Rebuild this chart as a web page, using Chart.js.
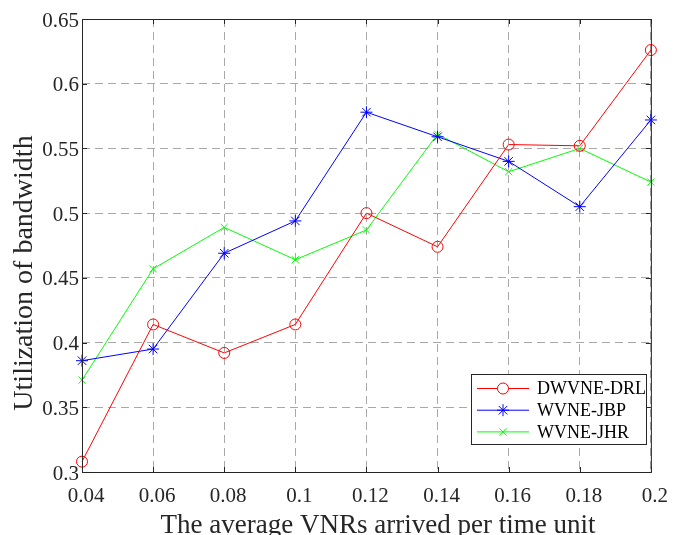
<!DOCTYPE html>
<html>
<head>
<meta charset="utf-8">
<script src="https://cdn.jsdelivr.net/npm/chart.js@4"></script>
<style>
  html, body { margin: 0; padding: 0; background: #fff; }
  #wrap { width: 676px; height: 535px; }
</style>
</head>
<body>
<div id="wrap"><canvas id="chart"></canvas></div>
<script>
// data
const xLabels = ['0.04', '0.06', '0.08', '0.1', '0.12', '0.14', '0.16', '0.18', '0.2'];
const yTicks = [0.3, 0.35, 0.4, 0.45, 0.5, 0.55, 0.6, 0.65];
const drl = [0.308, 0.414, 0.392, 0.414, 0.500, 0.474, 0.553, 0.552, 0.626];
const jbp = [0.386, 0.395, 0.469, 0.494, 0.578, 0.559, 0.540, 0.505, 0.572];
const jhr = [0.371, 0.457, 0.489, 0.464, 0.487, 0.561, 0.532, 0.550, 0.524];

const xTitle = 'The average VNRs arrived per time unit';
const yTitle = 'Utilization of bandwidth';

const serif = '"Liberation Serif", "Times New Roman", serif';
const axisColor = '#262626';

// box around the axes, inner tick marks, axis titles and legend
const boxPlugin = {
  id: 'box',
  afterDraw(chart) {
    const ctx = chart.ctx;
    const a = chart.chartArea;
    const xs = chart.scales.x, ys = chart.scales.y;
    ctx.save();
    ctx.strokeStyle = axisColor;
    ctx.lineWidth = 1;
    ctx.strokeRect(a.left + 0.5, a.top + 0.5, a.right - a.left, a.bottom - a.top);
    const t = 5;
    ctx.beginPath();
    xs.ticks.forEach((tk, i) => {
      const px = Math.round(xs.getPixelForTick(i)) + 0.5;
      ctx.moveTo(px, a.bottom); ctx.lineTo(px, a.bottom - t);
      ctx.moveTo(px, a.top); ctx.lineTo(px, a.top + t);
    });
    ys.ticks.forEach((tk, i) => {
      const py = Math.round(ys.getPixelForTick(i)) + 0.5;
      ctx.moveTo(a.left, py); ctx.lineTo(a.left + t, py);
      ctx.moveTo(a.right, py); ctx.lineTo(a.right - t, py);
    });
    ctx.stroke();

    // axis titles
    ctx.fillStyle = axisColor;
    ctx.textAlign = 'center';
    ctx.textBaseline = 'alphabetic';
    ctx.font = '27px ' + serif;
    ctx.fillText(xTitle, 378, 533);
    ctx.save();
    ctx.translate(32, 273);
    ctx.rotate(-Math.PI / 2);
    ctx.font = '28px ' + serif;
    ctx.fillText(yTitle, 0, 0);
    ctx.restore();

    // legend
    const lx = 471, ly = 374, lw = 175, lh = 70;
    ctx.fillStyle = '#fff';
    ctx.fillRect(lx, ly, lw, lh);
    ctx.strokeStyle = axisColor;
    ctx.strokeRect(lx + 0.5, ly + 0.5, lw, lh);
    ctx.font = '18px ' + serif;
    ctx.textAlign = 'left';
    ctx.textBaseline = 'middle';
    chart.data.datasets.forEach((ds, i) => {
      const cy = ly + 14.5 + i * 21.7;
      ctx.strokeStyle = ds.borderColor;
      ctx.lineWidth = 1;
      ctx.beginPath();
      ctx.moveTo(lx + 6, cy); ctx.lineTo(lx + 58, cy);
      ctx.stroke();
      Chart.helpers.drawPoint(ctx, {
        pointStyle: ds.pointStyle, radius: ds.pointRadius, borderWidth: 1
      }, lx + 32, cy);
      ctx.fillStyle = '#000';
      ctx.fillText(ds.label, lx + 66, cy + 1);
    });
    ctx.restore();
  }
};

function series(label, data, color, style, r) {
  return {
    label, data,
    borderColor: color,
    backgroundColor: 'rgba(0,0,0,0)',
    borderWidth: 1,
    pointStyle: style,
    pointRadius: r,
    pointBorderWidth: 1,
    pointBorderColor: color,
    tension: 0
  };
}

new Chart(document.getElementById('chart'), {
  type: 'line',
  data: {
    labels: xLabels,
    datasets: [
      series('DWVNE-DRL', drl, '#ff0000', 'circle', 5.5),
      series('WVNE-JBP', jbp, '#0000ff', 'star', 6),
      series('WVNE-JHR', jhr, '#00ff00', 'crossRot', 5)
    ]
  },
  options: {
    responsive: true,
    maintainAspectRatio: false,
    animation: false,
    layout: { padding: { left: 0, top: 19, right: 21, bottom: 0 } },
    plugins: {
      legend: { display: false },
      tooltip: { enabled: false }
    },
    scales: {
      x: {
        type: 'category',
        offset: false,
        grid: { color: '#a8a8a8', lineWidth: 1, drawTicks: false, offset: false },
        border: { display: false, dash: [8, 5] },
        ticks: {
          color: axisColor, font: { family: serif, size: 21 },
          padding: 12, labelOffset: 4, maxRotation: 0, autoSkip: false
        },
        afterFit: s => { s.height = 63; }
      },
      y: {
        min: 0.3,
        max: 0.65,
        grid: { color: '#a8a8a8', lineWidth: 1, drawTicks: false },
        border: { display: false, dash: [8, 5] },
        afterBuildTicks: s => { s.ticks = yTicks.map(v => ({ value: v })); },
        ticks: {
          color: axisColor,
          font: { family: serif, size: 21 },
          padding: 3,
          labelOffset: 2,
          callback: v => String(+v.toFixed(2))
        },
        afterFit: s => { s.width = 82; }
      }
    }
  },
  plugins: [boxPlugin]
});
</script>
</body>
</html>
